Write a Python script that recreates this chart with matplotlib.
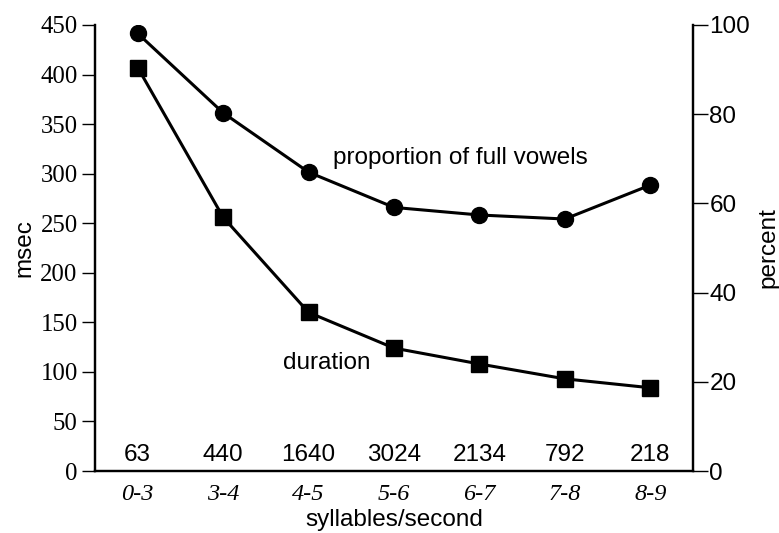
import matplotlib
matplotlib.use("Agg")
import matplotlib.pyplot as plt

categories = ["0-3", "3-4", "4-5", "5-6", "6-7", "7-8", "8-9"]
counts = [63, 440, 1640, 3024, 2134, 792, 218]
duration_msec = [407, 256, 160, 124, 108, 93, 84]
full_vowel_pct = [98.1, 80.3, 67.0, 59.1, 57.4, 56.5, 64.1]
left_ticks = [0, 50, 100, 150, 200, 250, 300, 350, 400, 450]
right_ticks = [0, 20, 40, 60, 80, 100]

SANS = "Liberation Sans"
SERIF = "Liberation Serif"

fig = plt.figure(figsize=(7.79, 5.33), dpi=100)
ax = fig.add_axes([0.1220, 0.1163, 0.8896 - 0.1220, 0.9531 - 0.1163])
ax2 = ax.twinx()

x = list(range(len(categories)))

ax.plot(x, duration_msec, color="black", lw=2.2, marker="s", markersize=11.5, zorder=3)
ax2.plot(x, full_vowel_pct, color="black", lw=2.2, marker="o", markersize=11.5, zorder=3)

ax.set_xlim(-0.5, len(categories) - 0.5)
ax.set_ylim(0, 450)
ax2.set_ylim(0, 100)

for a in (ax, ax2):
    a.spines["top"].set_visible(False)
    for s in ("left", "right", "bottom"):
        a.spines[s].set_linewidth(1.6)
        a.spines[s].set_color("black")

ax.set_yticks(left_ticks)
ax.set_yticklabels([str(t) for t in left_ticks], fontfamily=SERIF, fontsize=17.8)
ax.tick_params(axis="y", direction="out", length=9.5, width=1.0, pad=3, colors="black")

ax2.set_yticks(right_ticks)
ax2.set_yticklabels([str(t) for t in right_ticks], fontfamily=SANS, fontsize=17.5)
ax2.tick_params(axis="y", direction="out", length=11, width=1.0, pad=0.8, colors="black")

ax.set_xticks(x)
ax.set_xticklabels(categories, fontfamily=SERIF, fontstyle="italic", fontsize=17.5)
ax.tick_params(axis="x", length=0, pad=9)

for xi, c in zip(x, counts):
    ax.text(xi, 16, str(c), ha="center", va="center", fontfamily=SANS, fontsize=17.5)

ax.text(2.29, 316, "proportion of full vowels", ha="left", va="center",
        fontfamily=SANS, fontsize=17.5)
ax.text(1.70, 109, "duration", ha="left", va="center", fontfamily=SANS, fontsize=17.5)

fig.text(394 / 779, 1 - 520 / 533, "syllables/second", ha="center", va="center",
         fontfamily=SANS, fontsize=17.5)
fig.text(24 / 779, 1 - 248 / 533, "msec", ha="center", va="center", rotation=90,
         fontfamily=SANS, fontsize=17.5)
fig.text(768 / 779, 1 - 248 / 533, "percent", ha="center", va="center", rotation=90,
         fontfamily=SANS, fontsize=17.5)

fig.savefig("out.png", dpi=100)
